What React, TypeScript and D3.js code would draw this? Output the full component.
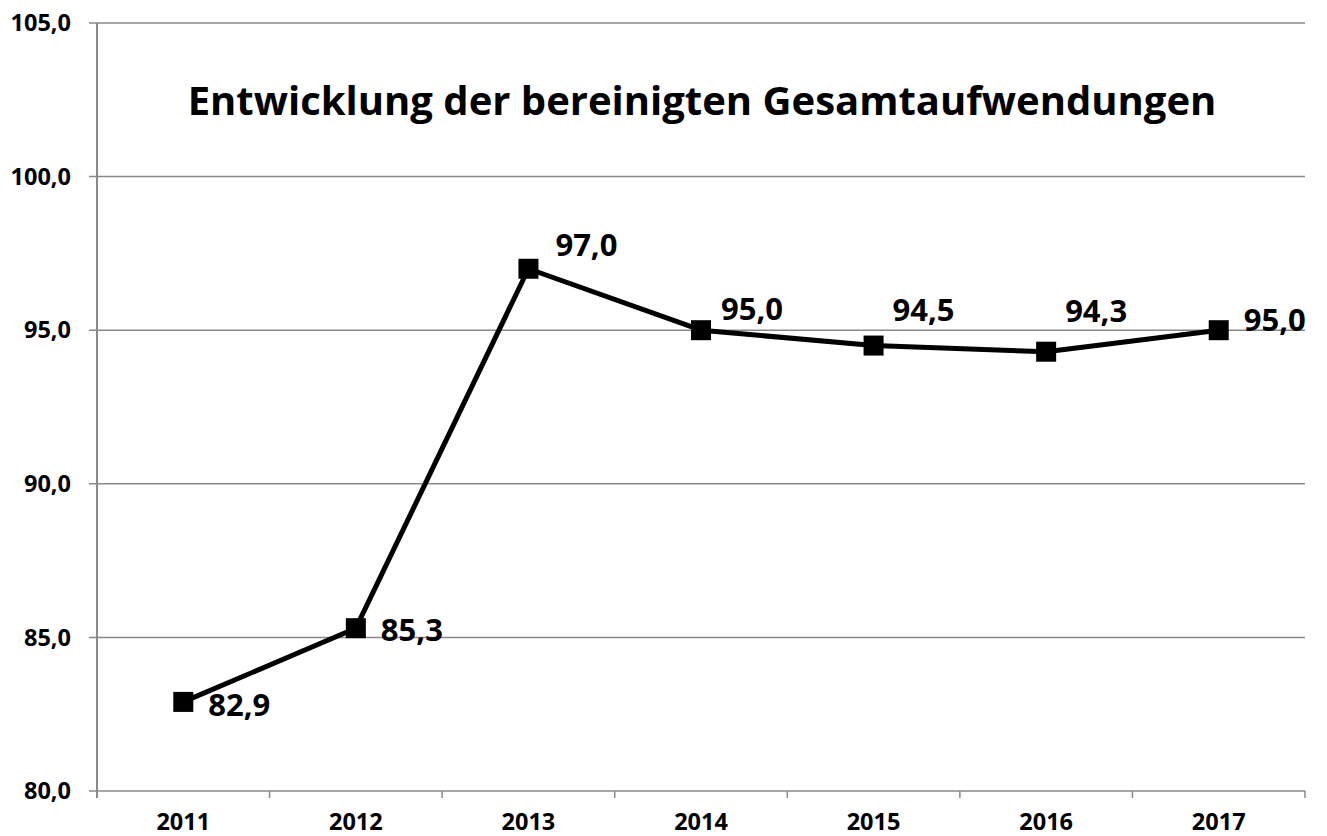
import React from "react";
import * as d3 from "d3";

const years = ["2011", "2012", "2013", "2014", "2015", "2016", "2017"];
const values = [82.9, 85.3, 97.0, 95.0, 94.5, 94.3, 95.0];
const yTicks = [80, 85, 90, 95, 100, 105];
const title = "Entwicklung der bereinigten Gesamtaufwendungen";
// label offsets (dx from point, dy of text center from point)
const labelDx = [25, 25, 27, 20, 19, 19, 25];
const labelDy = [3, 2, -24, -21, -35, -41, -10];

const W = 1327, H = 836;
const M = { left: 97, right: 1305, top: 23, bottom: 791 };
const FONT = "'Open Sans', sans-serif";
const fmt = (v: number) => v.toFixed(1).replace(".", ",");

export default function App() {
  const x = d3.scaleBand<string>().domain(years).range([M.left, M.right]).padding(0);
  const y = d3.scaleLinear().domain([80, 105]).range([M.bottom, M.top]);
  const cx = (d: string) => (x(d) as number) + x.bandwidth() / 2;
  const line = d3.line<number>().x((_, i) => cx(years[i])).y((v) => y(v));
  const edges = years.map((d) => x(d) as number).concat([M.right]);
  return (
    <svg width={W} height={H} style={{ position: "absolute", left: 0, top: 0, background: "#fff" }}>
      {yTicks.map((t) => (
        <g key={t}>
          <line x1={89} x2={M.right} y1={y(t)} y2={y(t)} stroke="#898989" strokeWidth={1.5} />
          <text x={71} y={y(t)} dy="0.35em" textAnchor="end" fontFamily={FONT} fontWeight={700} fontSize={23.5} fill="#000">
            {fmt(t)}
          </text>
        </g>
      ))}
      <line x1={M.left} x2={M.left} y1={M.top} y2={M.bottom + 7} stroke="#898989" strokeWidth={2} />
      {edges.slice(1).map((e, i) => (
        <line key={i} x1={e} x2={e} y1={M.bottom} y2={M.bottom + 7} stroke="#898989" strokeWidth={1.5} />
      ))}
      {years.map((d) => (
        <text key={d} x={cx(d)} y={822} dy="0.35em" textAnchor="middle" fontFamily={FONT} fontWeight={700} fontSize={23.5} fill="#000">
          {d}
        </text>
      ))}
      <text x={702} y={101} dy="0.35em" textAnchor="middle" fontFamily={FONT} fontWeight={700} fontSize={40} fill="#000">
        {title}
      </text>
      <path d={line(values) as string} fill="none" stroke="#000" strokeWidth={5} strokeLinejoin="round" />
      {values.map((v, i) => (
        <rect key={i} x={cx(years[i]) - 10} y={y(v) - 10} width={20} height={20} fill="#000" />
      ))}
      {values.map((v, i) => (
        <text key={i} x={cx(years[i]) + labelDx[i]} y={y(v) + labelDy[i]} dy="0.35em" fontFamily={FONT} fontWeight={700} fontSize={31} fill="#000">
          {fmt(v)}
        </text>
      ))}
    </svg>
  );
}
